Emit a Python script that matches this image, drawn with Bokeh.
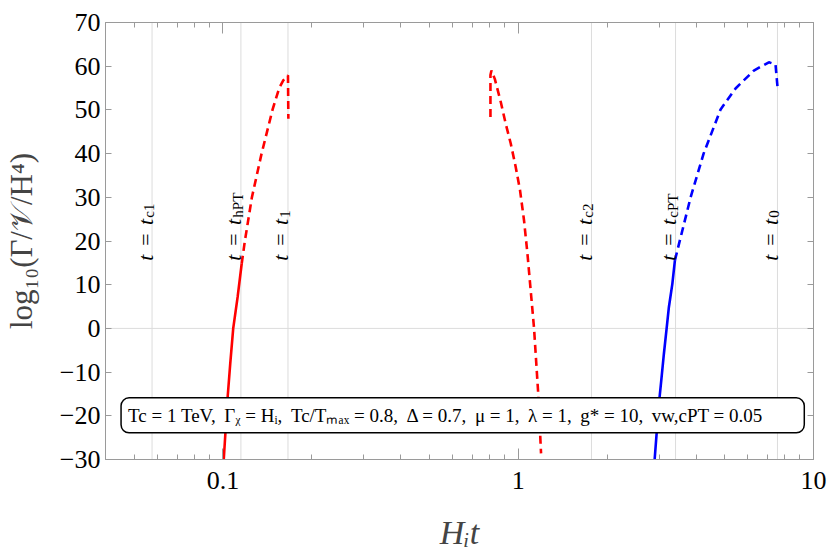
import numpy as np
from bokeh.plotting import figure
from bokeh.models import (Span, Label, FixedTicker, CustomJSTickFormatter,
                          LinearAxis, LogAxis)
from bokeh.core.properties import value
from bokeh.embed import file_html
from bokeh.resources import INLINE

# ---------------- data ----------------
red1_solid_x = [0.1006, 0.1037, 0.1058, 0.1083, 0.1121, 0.1157]
red1_solid_y = [-30.0, -15.7, -8.1, 0.0, 7.2, 14.8]
red1_dash_x = [0.1157, 0.1186, 0.1253, 0.1351, 0.1471, 0.1550, 0.1602, 0.1660, 0.1665]
red1_dash_y = [14.8, 20.0, 30.0, 40.0, 50.0, 55.0, 56.8, 57.9, 48.0]

red2_dash_x = [0.8051, 0.8051, 0.8115, 0.8328, 0.8726, 0.9072, 0.9432, 0.9807,
               1.0141, 1.0462, 1.0743, 1.1312, 1.1706, 1.1946]
red2_dash_y = [48.4, 58.0, 59.0, 57.1, 51.8, 46.8, 42.3, 36.9,
               31.6, 24.7, 17.1, 0.0, -15.7, -28.6]

blue_solid_x = [2.897, 2.942, 3.011, 3.051, 3.114, 3.181, 3.238, 3.326, 3.394]
blue_solid_y = [-30.0, -24.1, -15.7, -11.9, -5.8, 0.0, 4.9, 10.2, 15.6]
blue_dash_x = [3.394, 3.520, 3.836, 4.244, 4.845, 5.445, 6.281, 7.060, 7.436, 7.570]
blue_dash_y = [15.6, 19.9, 30.0, 40.0, 50.1, 54.9, 59.0, 60.9, 60.4, 54.5]

event_t = [0.0575, 0.115, 0.166, 1.77, 3.41, 7.55]
event_sub = ["c1", "hPT", "1", "c2", "cPT", "0"]
event_label_y = 15.5

x_major = [0.1, 1, 10]
x_minor = [0.05, 0.06, 0.07, 0.08, 0.09,
           0.2, 0.3, 0.4, 0.5, 0.6, 0.7, 0.8, 0.9,
           2, 3, 4, 5, 6, 7, 8, 9]
y_ticks = [-30, -20, -10, 0, 10, 20, 30, 40, 50, 60, 70]

SEP = ",  \u2009"
box_text = SEP.join([
    "Tc = 1 TeV",
    "\u0393\u1d6a = H\u1d62",
    "Tc/T\u2098\u2090\u2093 = 0.8",
    "\u0394 = 0.7",
    "\u03bc = 1",
    "\u03bb = 1",
    "g* = 10",
    "vw,cPT = 0.05",
])
box_x = 0.04516
box_y = -19.9

# ---------------- figure ----------------
FONT = "Liberation Serif"
GRAY = "#9a9a9a"

p = figure(width=830, height=558, x_axis_type="log",
           x_range=(0.04, 10), y_range=(-30, 70),
           output_backend="svg", toolbar_location=None,
           min_border_left=105, min_border_right=17,
           min_border_top=22, min_border_bottom=99)
p.xgrid.visible = False
p.ygrid.visible = False
p.outline_line_color = GRAY
p.background_fill_color = "white"
p.border_fill_color = "white"

xt = FixedTicker(ticks=x_major, minor_ticks=x_minor)
yt = FixedTicker(ticks=y_ticks, minor_ticks=[])

def style_x(ax, labels=True):
    ax.ticker = xt
    ax.axis_line_color = GRAY
    ax.major_tick_line_color = GRAY
    ax.minor_tick_line_color = GRAY
    ax.major_tick_in = 11
    ax.major_tick_out = 0
    ax.minor_tick_in = 5
    ax.minor_tick_out = 0
    if labels:
        ax.formatter = CustomJSTickFormatter(code="return tick.toString();")
        ax.major_label_text_font = FONT
        ax.major_label_text_font_size = "26px"
        ax.major_label_text_color = "black"
        ax.major_label_standoff = 12
    else:
        ax.formatter = CustomJSTickFormatter(code="return '';")
        ax.major_label_text_font_size = "0px"
        ax.major_label_standoff = 0

def style_y(ax, labels=True):
    ax.ticker = yt
    ax.axis_line_color = GRAY
    ax.major_tick_line_color = GRAY
    ax.major_tick_in = 6
    ax.major_tick_out = 0
    ax.minor_tick_in = 0
    ax.minor_tick_out = 0
    ax.minor_tick_line_color = None
    if labels:
        ax.formatter = CustomJSTickFormatter(
            code="return tick < 0 ? '\\u2212' + (-tick) : String(tick);")
        ax.major_label_text_font = FONT
        ax.major_label_text_font_size = "26px"
        ax.major_label_text_color = "black"
        ax.major_label_standoff = 5
    else:
        ax.formatter = CustomJSTickFormatter(code="return '';")
        ax.major_label_text_font_size = "0px"
        ax.major_label_standoff = 0

style_x(p.xaxis[0])
style_y(p.yaxis[0])
p.xaxis[0].axis_label = "H\u1d62t"
p.xaxis[0].axis_label_text_font = FONT
p.xaxis[0].axis_label_text_font_style = "italic"
p.xaxis[0].axis_label_text_font_size = "34px"
p.xaxis[0].axis_label_standoff = 22
p.yaxis[0].axis_label = "log\u2081\u2080(\u0393/\U0001D4B1/H\u2074)"
p.yaxis[0].axis_label_text_font = FONT
p.yaxis[0].axis_label_text_font_style = "normal"
p.yaxis[0].axis_label_text_font_size = "31px"
p.yaxis[0].axis_label_standoff = 18

top_ax = LogAxis()
style_x(top_ax, labels=False)
p.add_layout(top_ax, "above")
right_ax = LinearAxis()
style_y(right_ax, labels=False)
p.add_layout(right_ax, "right")

# reference lines (beneath the curves)
for t in event_t:
    p.add_layout(Span(location=t, dimension="height", line_color="#dcdcdc",
                      line_width=1, level="underlay"))
p.add_layout(Span(location=0, dimension="width", line_color="#dcdcdc",
                  line_width=1, level="underlay"))

# curves
LW = 2.6
DASH = "8 5"
p.line(red1_solid_x, red1_solid_y, line_color="#ff0000", line_width=LW)
p.line(red1_dash_x, red1_dash_y, line_color="#ff0000", line_width=LW, line_dash=DASH)
p.line(red2_dash_x, red2_dash_y, line_color="#ff0000", line_width=LW, line_dash=DASH)
p.line(blue_solid_x, blue_solid_y, line_color="#0000ff", line_width=LW)
p.line(blue_dash_x, blue_dash_y, line_color="#0000ff", line_width=LW, line_dash=DASH)

# event labels (rotated)
n = len(event_t)
p.text(x=event_t, y=[event_label_y] * n, text=["t\u2004=\u2004t"] * n,
       angle=np.pi / 2, text_font=value(FONT), text_font_style="italic",
       text_font_size="22px", text_baseline="alphabetic", text_align="left",
       x_offset=-7, text_color="black")
p.text(x=event_t, y=[event_label_y] * n, text=event_sub,
       angle=np.pi / 2, text_font=value(FONT), text_font_style="normal",
       text_font_size="15px", text_baseline="alphabetic", text_align="left",
       x_offset=-3, y_offset=-43, text_color="black")

# parameter box
box = Label(x=box_x, y=box_y, text=box_text, text_font=FONT,
            text_font_size="19px", text_baseline="middle", text_align="left",
            text_color="black", border_line_color="black", border_line_width=1.5,
            background_fill_color="white", background_fill_alpha=1.0,
            border_radius=8, padding=7)
p.add_layout(box)

open("out.html", "w").write(file_html(p, INLINE))
